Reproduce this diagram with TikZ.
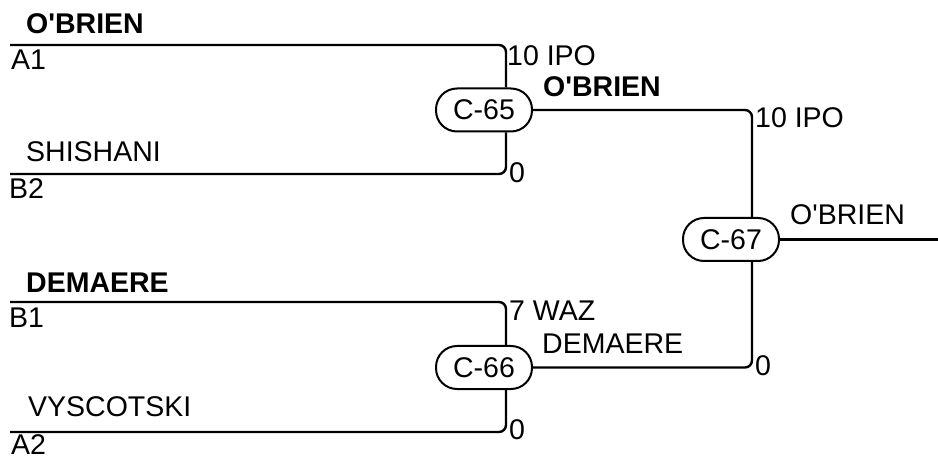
\documentclass[tikz,border=0pt]{standalone}
\usepackage{fontspec}
\setmainfont{Liberation Sans}[Ligatures=TeXOff]
\begin{document}
\begin{tikzpicture}[x=1pt,y=-1pt,
  wire/.style={line width=2.4pt, rounded corners=7pt},
  pill/.style={draw, line width=2pt, rounded corners=21pt, minimum width=96pt, minimum height=43pt, inner sep=0pt, font=\fontsize{28.5}{33}\selectfont},
  lbl/.style={anchor=base west, inner sep=0pt, font=\fontsize{28.5}{33}\selectfont},
  blbl/.style={lbl, font=\fontsize{28.5}{33}\selectfont\bfseries}]
\useasboundingbox (0,0) rectangle (938,457);
% match nodes
\node[pill] (C65) at (484,110) {C-65};
\node[pill] (C66) at (484,367.5) {C-66};
\node[pill] (C67) at (731,239.5) {C-67};
% line start points
\coordinate (A1) at (10,45);
\coordinate (B2) at (10,174);
\coordinate (B1) at (10,302);
\coordinate (A2) at (10,432);
\coordinate (OUT) at (938,239.5);
% connectors
\draw[wire] (A1) -| ([xshift=22pt]C65.north);
\draw[wire] (B2) -| ([xshift=22pt]C65.south);
\draw[wire] (B1) -| ([xshift=22pt]C66.north);
\draw[wire] (A2) -| ([xshift=22pt]C66.south);
\draw[wire] (C65.east) -| ([xshift=21pt]C67.north);
\draw[wire] (C66.east) -| ([xshift=21pt]C67.south);
\draw[wire] (C67.east) -- (OUT);
% labels
\node[blbl] (ob1) at (26,34) {O'BRIEN};
\node[lbl] (la1) at (11,70) {A1};
\node[lbl] (shi) at (26,162) {SHISHANI};
\node[lbl] (lb2) at (9,199) {B2};
\node[lbl] (ipo1) at (507,66) {10 IPO};
\node[blbl] (ob2) at (543,97) {O'BRIEN};
\node[lbl] (z1) at (509,183) {0};
\node[lbl] (ipo2) at (755,128) {10 IPO};
\node[lbl] (ob3) at (790,225) {O'BRIEN};
\node[blbl] (dem1) at (26,293) {DEMAERE};
\node[lbl] (lb1) at (9,327) {B1};
\node[lbl] (vys) at (28,417) {VYSCOTSKI};
\node[lbl] (la2) at (11,454) {A2};
\node[lbl] (waz) at (509,321) {7 WAZ};
\node[lbl] (dem2) at (542,353) {DEMAERE};
\node[lbl] (z2) at (509,439) {0};
\node[lbl] (z3) at (755,376) {0};
\end{tikzpicture}
\end{document}
